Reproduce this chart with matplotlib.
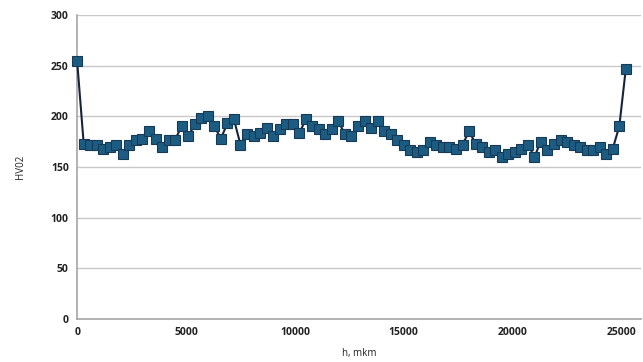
import numpy as np
import matplotlib.pyplot as plt

# depth step along the sample, mkm
h = np.arange(0, 25201, 300)

hv = [254,
      173, 172, 172, 168, 170, 172, 163, 172, 177, 178, 185, 178, 170, 177,
      177, 190, 180, 192, 198, 200, 190, 178, 193, 197, 172, 182, 180, 183,
      188, 180, 187, 192, 192, 183, 197, 190, 187, 182, 187, 195, 182, 180,
      190, 195, 188, 195, 185, 182, 177, 172, 167, 165, 167, 175, 172, 170,
      170, 168, 172, 185, 173, 170, 165, 167, 160, 163, 165, 168, 172, 160,
      175, 167, 173, 177, 175, 172, 170, 167, 167, 170, 163, 168, 190,
      247]

xticks = [0, 5000, 10000, 15000, 20000, 25000]
yticks = [0, 50, 100, 150, 200, 250, 300]

plt.rcParams['font.family'] = ['Open Sans', 'DejaVu Sans']

fig = plt.figure(figsize=(6.43, 3.62), dpi=100)
ax = fig.add_axes([0.12, 0.119, 0.877, 0.84])

ax.plot(h, hv, color='#16243a', lw=1.5, marker='s', markersize=6.5,
        markerfacecolor='#1d5c82', markeredgecolor='#163a55', markeredgewidth=0.8,
        zorder=3, clip_on=False)

ax.set_xlim(0, 25900)
ax.set_ylim(0, 300)
ax.set_xticks(xticks)
ax.set_yticks(yticks)
ax.yaxis.grid(True, color='#c8c8c8', lw=1)
ax.set_axisbelow(True)
for s in ['top', 'right']:
    ax.spines[s].set_visible(False)
for s in ['left', 'bottom']:
    ax.spines[s].set_color('#a6a6a6')
    ax.spines[s].set_linewidth(1.2)
ax.tick_params(length=0, pad=6, labelsize=7.5, colors='#222222')
for lab in ax.get_xticklabels() + ax.get_yticklabels():
    lab.set_fontweight('bold')

ax.set_xlabel('h, mkm', fontsize=7, labelpad=7, color='#222222')
ax.set_ylabel('HV02', fontsize=7, labelpad=18, color='#222222')

fig.savefig('out.png', dpi=100)
